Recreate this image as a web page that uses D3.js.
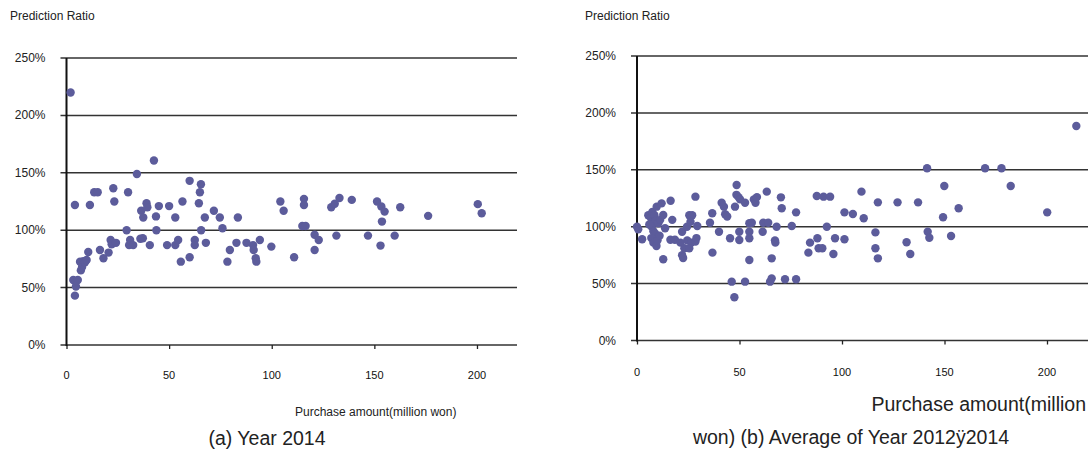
<!DOCTYPE html>
<html>
<head>
<meta charset="utf-8">
<script src="https://cdn.jsdelivr.net/npm/d3@7/dist/d3.min.js"></script>
<style>
  html, body { margin: 0; padding: 0; background: #fff; }
  svg { display: block; font-family: "Liberation Sans", Arial, sans-serif; }
</style>
</head>
<body>
<svg id="chart" width="1088" height="450"></svg>
<script>
// ---- Data ----
const yTickValues = [0, 50, 100, 150, 200, 250];
const xTickValues = [0, 50, 100, 150, 200];
const yAxisTitle = "Prediction Ratio";
const xAxisTitle = "Purchase amount(million won)";
const captionA = "(a) Year 2014";
const captionB1 = "Purchase amount(million";
const captionB2 = "won) (b) Average of Year 2012ÿ2014";

// (a) Year 2014: purchase amount (million won), prediction ratio (%)
const x2014 = [2, 4.1, 3.3, 4.5, 5.5, 4.6, 4.1, 7, 7.6, 6.6, 8.2, 9, 9.8, 10.6, 11.4, 13.5, 15.2, 16.3, 18, 20.5,
  21.5, 22, 22.8, 23.3, 24.1, 29.3, 30, 30.5, 31, 32.5, 34.3, 36, 37.2, 36.4, 37.4, 39, 39.4, 40.6, 42.6, 43.6,
  43.8, 45, 49, 50, 53, 53, 54.4, 55.7, 56.5, 60, 60, 62.5, 62.5, 64.5, 65, 65.5, 65.6, 67.4, 67.9, 71.8,
  74.7, 76, 78.4, 79.6, 82.8, 83.5, 87.7, 90.9, 91.2, 92.2, 92.5, 94.2, 99.8, 104.2, 105.8, 110.9, 115.7, 115.7, 114.9, 116.5,
  120.9, 120.9, 122.9, 129, 130.7, 133, 131.5, 139, 146.9, 151.3, 153.4, 155, 153.7, 153, 159.9, 162.6, 176.2, 200.4, 202.3];
const y2014 = [220, 122, 56.7, 55, 56.7, 51, 43, 65, 68, 72.6, 73, 72, 74, 81, 122, 133, 133, 82.8, 75.6, 80.5,
  91.5, 87.8, 136.6, 125, 89, 100, 133, 87, 91.5, 87, 149, 92.6, 93, 117, 111, 123.5, 120, 87, 160.7, 112,
  100, 121, 87, 121, 111, 87, 91.5, 72.6, 125, 76.5, 143, 91.5, 87, 123.5, 133, 140, 100, 111, 89, 117,
  111, 101.7, 72.6, 82.8, 89, 111, 89, 87, 82.8, 75.6, 72.6, 91.5, 85.7, 125, 117, 76.5, 127.3, 122, 103.7, 103.7,
  96, 82.8, 91.5, 120, 123, 128, 95.3, 126.4, 95.3, 125, 120.6, 116.2, 107.5, 86.6, 95.3, 120, 112.5, 122.7, 114.8];

// (b) Average of Year 2012-2014
const xAvg = [0, 0.6, 2.5, 5.5, 6.7, 7.5, 8.5, 9, 9.6, 12, 7.2, 8, 8.8, 7, 8, 9.5, 10.4, 11.3, 12.8, 13.7,
  12.8, 10, 11, 6, 16.4, 17.2, 16.3, 18.5, 21.2, 22, 22, 22.5, 23.1, 24.4, 25.5, 26.9, 26.1, 24.5, 26.5, 25.5,
  28.5, 28.5, 29, 29.4, 35.6, 36.8, 36.7, 40, 41.3, 42.4, 43, 44, 45.4, 46.2, 47.5, 47.8, 48.6, 48.5, 49.5, 50.3,
  49.9, 49.9, 52.7, 52.7, 54.8, 54.8, 54.8, 54.8, 56, 57, 57.8, 58.5, 61.3, 61.6, 63.3, 64, 64.9, 65.7, 65.7, 67.3,
  67.5, 68.1, 70.2, 70.6, 72.2, 75.5, 77.6, 77.6, 83.6, 84.4, 87.7, 88, 88.6, 90.4, 91, 94.2, 92.6, 95.8, 96.6, 101.2,
  101.2, 105.3, 109.5, 110.6, 116.3, 116.3, 117.5, 117.5, 127.1, 131.5, 133.3, 137.1, 141.5, 141.8, 142.6, 149.3, 149.9, 153.2, 156.9, 169.8,
  177.8, 182.3, 200.1, 214.3];
const yAvg = [100, 97.7, 89, 110, 108, 113, 110, 105, 117.6, 120.5, 100, 96, 94, 90, 86, 83, 103, 106, 110.3, 98.6,
  71.4, 88, 92, 102, 122.8, 106, 88.5, 88.5, 86, 95.6, 75, 72.5, 81, 100, 110, 110, 104.4, 88, 86, 81,
  126.4, 87, 90, 100.6, 103.5, 77.2, 111.8, 95.6, 121, 117.6, 111, 109, 89.8, 51.7, 38, 117.6, 136.6, 128, 126, 124,
  95.6, 88.3, 121, 51.7, 103, 95.6, 89.8, 70.7, 103.5, 124, 121, 126, 95.6, 103.5, 130.8, 103.5, 51.7, 54.6, 72.2, 88,
  86, 100, 125.8, 116.2, 53.8, 100.6, 112.6, 53.8, 77.2, 86, 127, 89.8, 81, 81, 126.4, 126.4, 100, 76, 89.8, 112.6,
  89, 111.2, 130.8, 107.4, 95, 81, 121.4, 72.2, 121.4, 86.3, 76, 121.4, 151.3, 95.6, 90.3, 108.3, 135.8, 91.8, 116.2, 151.3,
  151.3, 135.8, 112.6, 188.5];

const dotColor = "#5c5c9b";
const svg = d3.select("#chart");

function panel(opt) {
  const g = svg.append("g");
  const x = d3.scaleLinear().domain([0, opt.xMax]).range([opt.left, opt.right]);
  const y = d3.scaleLinear().domain([0, 250]).range([opt.bottom, opt.top]);

  // horizontal gridlines (incl. left tick stubs)
  g.selectAll("line.grid").data(yTickValues).join("line")
    .attr("x1", opt.left - 6).attr("x2", opt.right)
    .attr("y1", d => y(d)).attr("y2", d => y(d))
    .attr("stroke", "#333").attr("stroke-width", 1.5);

  // x axis ticks (downward)
  const xAxis = d3.axisBottom(x).tickValues(xTickValues).tickSize(4).tickFormat("");
  g.append("g").attr("transform", `translate(0,${y(0)})`).call(xAxis)
    .call(s => s.select(".domain").remove())
    .call(s => s.selectAll(".tick line").attr("stroke", "#222").attr("stroke-width", 1.3));

  // y axis vertical line
  g.append("line").attr("x1", x(0)).attr("x2", x(0))
    .attr("y1", y(250)).attr("y2", y(0) + 1)
    .attr("stroke", "#111").attr("stroke-width", 2);

  // y tick labels
  g.selectAll("text.ylab").data(yTickValues).join("text")
    .attr("x", opt.left - 21).attr("y", d => y(d) + 4)
    .attr("text-anchor", "end").attr("font-size", 12).attr("fill", "#222")
    .text(d => d + "%");

  // x tick labels
  g.selectAll("text.xlab").data(xTickValues).join("text")
    .attr("x", d => x(d)).attr("y", opt.xLabY)
    .attr("text-anchor", "middle").attr("font-size", 11).attr("fill", "#111")
    .text(d => d);

  // y axis title
  g.append("text").attr("x", opt.titleX).attr("y", 20)
    .attr("font-size", 12).attr("fill", "#222").text(yAxisTitle);

  // points
  g.selectAll("circle").data(opt.xs.map((v, i) => [v, opt.ys[i]])).join("circle")
    .attr("cx", d => x(d[0])).attr("cy", d => y(d[1])).attr("r", 4.2)
    .attr("fill", dotColor);
  return g;
}

panel({ left: 66.5, right: 517, top: 58, bottom: 345, xMax: 219.5, xLabY: 378.5, titleX: 10, xs: x2014, ys: y2014 });
panel({ left: 637, right: 1088, top: 56, bottom: 340.5, xMax: 220, xLabY: 376, titleX: 585, xs: xAvg, ys: yAvg });

// captions
svg.append("text").attr("x", 295).attr("y", 415.5).attr("font-size", 12).attr("fill", "#222").text(xAxisTitle);
svg.append("text").attr("x", 267).attr("y", 445).attr("text-anchor", "middle").attr("font-size", 19.5).attr("fill", "#222").text(captionA);
svg.append("text").attr("x", 1086).attr("y", 411).attr("text-anchor", "end").attr("font-size", 19.5).attr("fill", "#222").text(captionB1);
svg.append("text").attr("x", 851).attr("y", 444).attr("text-anchor", "middle").attr("font-size", 19.5).attr("fill", "#222").text(captionB2);
</script>
</body>
</html>
